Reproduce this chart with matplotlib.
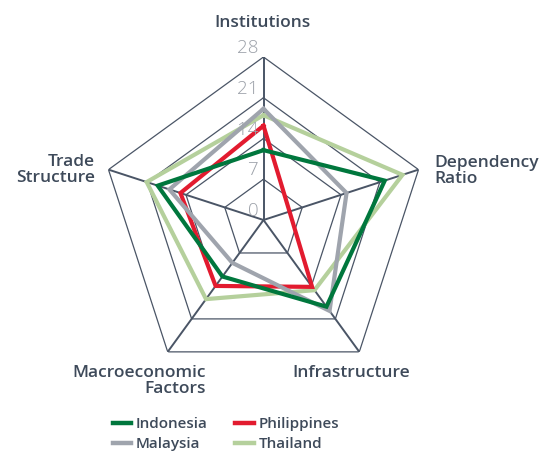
import numpy as np
import matplotlib
matplotlib.use("Agg")
import matplotlib.pyplot as plt
from matplotlib.lines import Line2D

categories = ["Institutions", "Dependency\nRatio", "Infrastructure", "Macroeconomic\nFactors", "Trade\nStructure"]
ticks = [0, 7, 14, 21, 28]
indonesia = [12.0, 21.9, 18.4, 12.0, 19.1]
malaysia = [19.1, 15.0, 19.3, 9.1, 17.0]
philippines = [16.2, 4.7, 14.2, 14.0, 15.0]
thailand = [18.0, 25.1, 14.9, 16.8, 21.1]

series = [("Indonesia", indonesia, "#00773d"),
          ("Malaysia", malaysia, "#9fa4ad"),
          ("Philippines", philippines, "#e21b2f"),
          ("Thailand", thailand, "#b5d09c")]

text_col = "#3e4a5a"
grid_col = "#4a5566"
FONT = "Open Sans"

W, H = 553, 451
fig = plt.figure(figsize=(W / 100, H / 100), dpi=100)
cx, cy, R = 263.5, 220, 163
ax = fig.add_axes([(cx - R) / W, (H - cy - R) / H, 2 * R / W, 2 * R / H], projection="polar")
ax.set_theta_offset(np.pi / 2)
ax.set_theta_direction(-1)
ax.set_ylim(0, 28)
ax.grid(False)
ax.spines["polar"].set_visible(False)
ax.set_xticks([])
ax.set_yticks([])
ax.patch.set_alpha(0)

n = len(categories)
theta = np.linspace(0, 2 * np.pi, n, endpoint=False)
theta_c = np.append(theta, theta[0])

# pentagon rings
for t in ticks[1:]:
    ax.plot(theta_c, [t] * (n + 1), color=grid_col, lw=0.9, zorder=1)
# spokes
for th in theta:
    ax.plot([th, th], [0, 28], color=grid_col, lw=1.4, zorder=1)

# series (first dataset on top)
for i, (name, vals, col) in enumerate(reversed(series)):
    ax.plot(theta_c, vals + vals[:1], color=col, lw=3.0, zorder=3 + i,
            solid_joinstyle="miter")

# radial tick labels
for t in ticks:
    ax.text(0, t, f"{t} ", ha="right", va="bottom", color="#9ca1a9",
            fontsize=13.5, family=FONT, fontweight="light", zorder=10,
            transform=ax.transData)

# category labels (positioned in figure pixels)
lab_kw = dict(color=text_col, fontsize=12.5, family=FONT, fontweight="semibold", linespacing=0.95)
def fx(x): return x / W
def fy(y): return 1 - y / H
fig.text(fx(263), fy(23), categories[0], ha="center", va="center", **lab_kw)
fig.text(fx(434), fy(171), categories[1], ha="left", va="center", multialignment="left", **lab_kw)
fig.text(fx(292), fy(373), categories[2], ha="left", va="center", **lab_kw)
fig.text(fx(206), fy(381), categories[3], ha="right", va="center", multialignment="right", **lab_kw)
fig.text(fx(95), fy(170), categories[4], ha="right", va="center", multialignment="right", **lab_kw)

handles = [Line2D([], [], color=c, lw=3.2) for _, _, c in series]
labels = [nm for nm, _, _ in series]
leg = fig.legend(handles, labels, ncol=2, loc="center", bbox_to_anchor=(fx(226), fy(434)),
                 frameon=False, handlelength=1.2, handletextpad=0.3, columnspacing=1.8,
                 labelspacing=0.4, prop=dict(family=FONT, weight="semibold", size=11))
for t in leg.get_texts():
    t.set_color(text_col)

fig.savefig("out.png", dpi=100)
